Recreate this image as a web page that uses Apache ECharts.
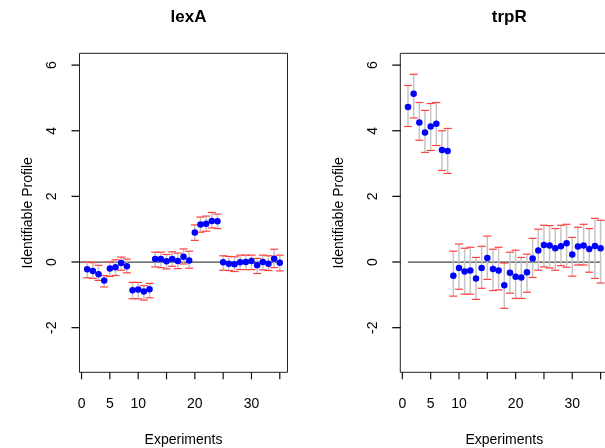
<!DOCTYPE html>
<html>
<head>
<meta charset="utf-8">
<script src="https://cdn.jsdelivr.net/npm/echarts@6/dist/echarts.min.js"></script>
<style>
html,body{margin:0;padding:0;background:#fff;}
#chart{width:605px;height:448px;}
</style>
</head>
<body>
<div id="chart"></div>
<script>
// ---- data ----
const experiments = [1,2,3,4,5,6,7,8,9,10,11,12,13,14,15,16,17,18,19,20,21,22,23,24,25,26,27,28,29,30,31,32,33,34,35];

const lexA_mean = [-0.22,-0.27,-0.37,-0.56,-0.20,-0.16,-0.03,-0.13,-0.86,-0.84,-0.90,-0.83,0.09,0.09,0.02,0.09,0.03,0.16,0.05,0.90,1.14,1.17,1.25,1.24,-0.01,-0.05,-0.07,-0.01,0.00,0.03,-0.10,0.00,-0.05,0.10,-0.02];
const lexA_upper = [0.00,-0.02,-0.10,-0.41,0.00,0.07,0.15,0.09,-0.62,-0.62,-0.72,-0.65,0.30,0.30,0.23,0.31,0.27,0.40,0.33,1.13,1.37,1.40,1.51,1.46,0.19,0.17,0.16,0.21,0.21,0.21,0.11,0.21,0.19,0.39,0.21];
const lexA_lower = [-0.48,-0.50,-0.56,-0.76,-0.44,-0.41,-0.25,-0.33,-1.12,-1.12,-1.16,-1.09,-0.15,-0.17,-0.21,-0.13,-0.20,-0.06,-0.19,0.66,0.91,0.94,1.04,1.02,-0.25,-0.26,-0.29,-0.23,-0.23,-0.23,-0.35,-0.24,-0.26,-0.17,-0.27];

const trpR_mean = [4.72,5.13,4.25,3.95,4.13,4.21,3.41,3.38,-0.42,-0.18,-0.29,-0.26,-0.50,-0.18,0.12,-0.21,-0.26,-0.71,-0.33,-0.45,-0.47,-0.31,0.11,0.35,0.52,0.50,0.42,0.48,0.57,0.23,0.47,0.50,0.40,0.49,0.42];
const trpR_upper = [5.38,5.72,4.86,4.62,4.83,4.86,4.00,4.07,0.33,0.55,0.42,0.45,0.14,0.48,0.79,0.39,0.45,-0.03,0.30,0.36,0.14,0.24,0.72,1.00,1.12,1.11,1.02,1.12,1.15,0.75,1.06,1.15,1.02,1.33,1.27];
const trpR_lower = [4.13,4.39,3.71,3.34,3.40,3.55,2.79,2.70,-1.04,-0.83,-0.98,-0.98,-1.14,-0.80,-0.53,-0.87,-0.85,-1.41,-0.95,-1.11,-1.11,-0.92,-0.47,-0.25,-0.15,-0.18,-0.25,-0.11,-0.16,-0.43,-0.09,-0.09,-0.31,-0.50,-0.64];

const panelTitles = ['lexA','trpR'];
const xTicks = [0,5,10,15,20,25,30,35];
const xLabels = [0,5,10,20,30];
const yTicks = [-2,0,2,4,6];
const zeroLineLeft = [[-0.36,0],[35,0]];
const zeroLineRight = [[1,0],[35,0]];
const xTitle = 'Experiments';
const yTitle = 'Identifiable Profile';

// ---- chart ----
const FONT = '"Liberation Sans", Arial, Helvetica, sans-serif';
const X_MIN = -0.36, X_MAX = 36.36, Y_MIN = -3.36, Y_MAX = 6.36;
const chart = echarts.init(document.getElementById('chart'), null, {renderer:'canvas'});

function errData(lo, hi){
  return experiments.map((x,i)=>[x, lo[i], hi[i]]);
}
function ptData(means){
  return experiments.map((x,i)=>[x, means[i]]);
}
function renderErr(params, api){
  const x = api.value(0), lo = api.value(1), hi = api.value(2);
  const a = api.coord([x, lo]);
  const b = api.coord([x, hi]);
  const cw = 4;
  return {
    type:'group',
    children:[
      {type:'line', shape:{x1:a[0],y1:a[1],x2:b[0],y2:b[1]}, style:{stroke:'#c4c4c4', lineWidth:1.5}},
      {type:'line', shape:{x1:b[0]-cw,y1:b[1],x2:b[0]+cw,y2:b[1]}, style:{stroke:'#ff4040', lineWidth:1.2}},
      {type:'line', shape:{x1:a[0]-cw,y1:a[1],x2:a[0]+cw,y2:a[1]}, style:{stroke:'#ff4040', lineWidth:1.2}}
    ]
  };
}
function renderXTick(params, api){
  const p = api.coord([api.value(0), Y_MIN]);
  return {type:'line', shape:{x1:p[0],y1:p[1],x2:p[0],y2:p[1]+7}, style:{stroke:'#111', lineWidth:1.2}};
}
function renderYTick(params, api){
  const p = api.coord([X_MIN, api.value(1)]);
  return {type:'line', shape:{x1:p[0]-8,y1:p[1],x2:p[0]+0.5,y2:p[1]}, style:{stroke:'#111', lineWidth:1.3}};
}

const grids = [
  {left:79.5, top:53.3, width:208, height:319, show:true, borderColor:'#222', borderWidth:1, backgroundColor:'transparent', containLabel:false, outerBoundsMode:'none'},
  {left:400.3, top:53.3, width:208, height:319, show:true, borderColor:'#222', borderWidth:1, backgroundColor:'transparent', containLabel:false, outerBoundsMode:'none'}
];
const yNameGaps = [44, 54];

function makeX(i){
  return {
    type:'value', gridIndex:i, min:X_MIN, max:X_MAX,
    name:xTitle, nameLocation:'middle', nameGap:61,
    nameTextStyle:{fontFamily:FONT, fontSize:14, color:'#000'},
    axisLine:{show:false},
    splitLine:{show:false},
    axisTick:{show:false},
    axisLabel:{show:true, customValues:xLabels, margin:25, fontFamily:FONT, fontSize:14, color:'#000'}
  };
}
function makeY(i){
  return {
    type:'value', gridIndex:i, min:Y_MIN, max:Y_MAX, position:'left',
    name:yTitle, nameLocation:'middle', nameGap:yNameGaps[i], nameRotate:90,
    nameTextStyle:{fontFamily:FONT, fontSize:14, color:'#000'},
    axisLine:{show:false},
    splitLine:{show:false},
    axisTick:{show:false},
    axisLabel:{show:true, customValues:yTicks, rotate:90, margin:20, fontFamily:FONT, fontSize:14, color:'#000'}
  };
}

const panels = [
  {mean:lexA_mean, lo:lexA_lower, hi:lexA_upper, zero:zeroLineLeft},
  {mean:trpR_mean, lo:trpR_lower, hi:trpR_upper, zero:zeroLineRight}
];

const series = [];
panels.forEach((p,i)=>{
  series.push({
    type:'custom', xAxisIndex:i, yAxisIndex:i, data:xTicks.map(v=>[v, 0]),
    renderItem:renderXTick, z:5, animation:false, silent:true, clip:false
  });
  series.push({
    type:'custom', xAxisIndex:i, yAxisIndex:i, data:yTicks.map(v=>[1, v]),
    renderItem:renderYTick, z:6, zlevel:0, animation:false, silent:true, clip:false
  });
  series.push({
    type:'line', xAxisIndex:i, yAxisIndex:i, data:p.zero, symbol:'none', silent:true,
    lineStyle:{color:'#444', width:1.2}, z:1, animation:false
  });
  series.push({
    type:'custom', xAxisIndex:i, yAxisIndex:i, data:errData(p.lo,p.hi),
    renderItem:renderErr, z:2, animation:false, silent:true, clip:false
  });
  series.push({
    type:'scatter', xAxisIndex:i, yAxisIndex:i, data:ptData(p.mean),
    symbol:'circle', symbolSize:6.5, itemStyle:{color:'#0000ff', opacity:1}, z:3, animation:false
  });
});

chart.setOption({
  animation:false,
  backgroundColor:'#fff',
  title:[
    {text:panelTitles[0], left:183.5, top:4, textAlign:'center', textStyle:{fontFamily:FONT, fontSize:17, fontWeight:'bold', color:'#000'}},
    {text:panelTitles[1], left:504.3, top:4, textAlign:'center', textStyle:{fontFamily:FONT, fontSize:17, fontWeight:'bold', color:'#000'}}
  ],
  grid:grids,
  xAxis:[makeX(0), makeX(1)],
  yAxis:[makeY(0), makeY(1)],
  series:series
});
</script>
</body>
</html>
